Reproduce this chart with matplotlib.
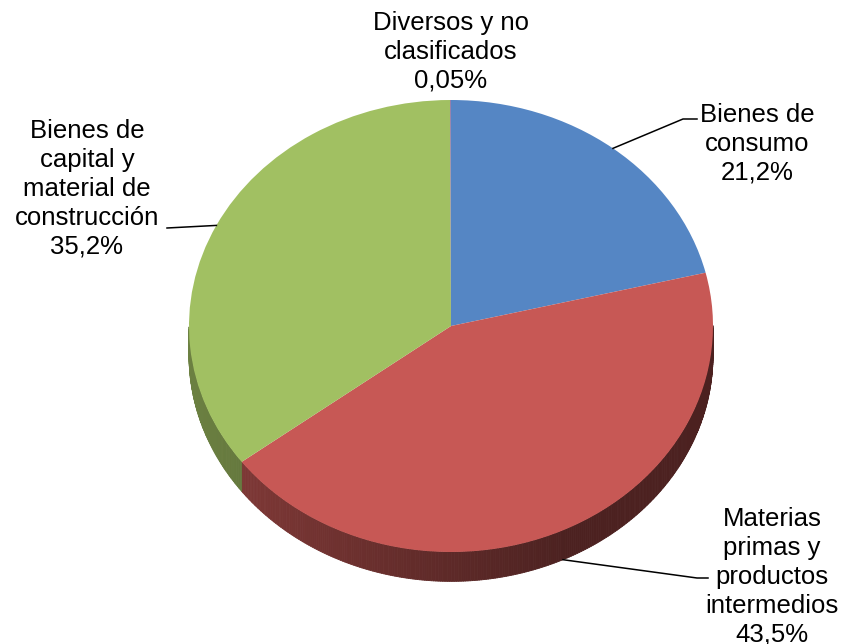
import numpy as np
import matplotlib
matplotlib.use("Agg")
import matplotlib.pyplot as plt
from matplotlib.collections import PolyCollection
from matplotlib.colors import to_rgb

plt.rcParams['font.family'] = ['Liberation Sans', 'DejaVu Sans']

# datos
categories = ["Bienes de consumo",
              "Materias primas y productos intermedios",
              "Bienes de capital y material de construcción",
              "Diversos y no clasificados"]
shares = [21.2, 43.5, 35.2, 0.05]
label_texts = ["Bienes de\nconsumo\n21,2%",
               "Materias\nprimas y\nproductos\nintermedios\n43,5%",
               "Bienes de\ncapital y\nmaterial de\nconstrucción\n35,2%",
               "Diversos y no\nclasificados\n0,05%"]
colors = ["#5586c4", "#c75855", "#a1c062", "#8064a2"]

# layout (pixels)
W, H = 844, 644
cx, cy, rx, ry = 451, 326, 262, 226
depth = 0.13

def to_data(px, py):
    return (px - cx) / rx, (cy - py) / ry

fig = plt.figure(figsize=(W / 100, H / 100), dpi=100)
ax = fig.add_axes([0, 0, 1, 1])

wedges, _ = ax.pie(shares, colors=colors, startangle=90, counterclock=False,
                   wedgeprops=dict(linewidth=0, zorder=3))
ax.set_aspect('auto')
ax.set_xlim(-cx / rx, (W - cx) / rx)
ax.set_ylim(-(H - cy) / ry, cy / ry)
ax.axis('off')

# pared lateral (3D)
polys, fcs = [], []
for w, c in zip(wedges, colors):
    base = np.array(to_rgb(c))
    angs = np.linspace(w.theta1, w.theta2, max(int((w.theta2 - w.theta1) * 2), 2))
    for a0, a1 in zip(angs[:-1], angs[1:]):
        am = np.radians((a0 + a1) / 2)
        if np.sin(am) > 0:
            continue
        r0, r1 = np.radians(a0), np.radians(a1)
        polys.append([(np.cos(r0), np.sin(r0)), (np.cos(r1), np.sin(r1)),
                      (np.cos(r1), np.sin(r1) - depth), (np.cos(r0), np.sin(r0) - depth)])
        k = np.clip(0.47 + 0.2 * (-np.cos(am)), 0.38, 0.7)
        fcs.append(tuple(base * k))
ax.add_collection(PolyCollection(polys, facecolors=fcs, edgecolors=fcs,
                                 linewidths=0.6, zorder=2))

# etiquetas
label_pos = [(757, 144), (772, 577), (87, 189), (451, 52)]
for txt, (px, py) in zip(label_texts, label_pos):
    x, y = to_data(px, py)
    ax.text(x, y, txt, ha='center', va='center', fontsize=18.5,
            linespacing=1.25, zorder=5)

# lineas guia
def mid_point(w, drop=0.0):
    a = np.radians((w.theta1 + w.theta2) / 2)
    return np.cos(a), np.sin(a) - drop

leaders = [(wedges[0], 0.0, [(683, 119), (697, 119)]),
           (wedges[1], depth, [(697, 578), (708, 578)]),
           (wedges[2], 0.0, [(167, 228)])]
for w, drop, pts in leaders:
    x0, y0 = mid_point(w, drop)
    xs = [x0] + [to_data(*p)[0] for p in pts]
    ys = [y0] + [to_data(*p)[1] for p in pts]
    ax.plot(xs, ys, color='black', lw=1.1, zorder=4)

fig.savefig("out.png", dpi=100, facecolor='white')
